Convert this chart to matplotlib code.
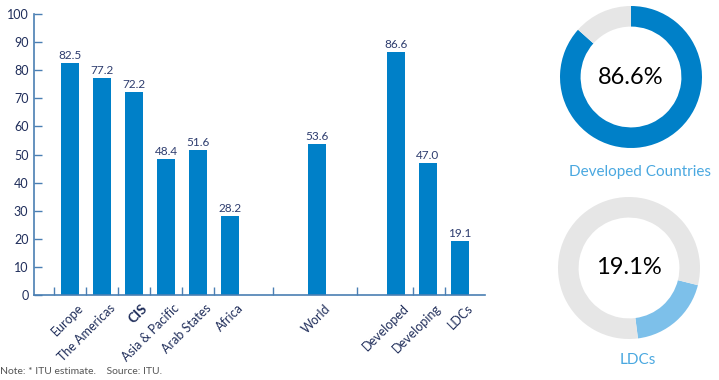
import matplotlib
matplotlib.use("Agg")
import matplotlib.pyplot as plt

plt.rcParams['font.family'] = ['Lato', 'DejaVu Sans']

categories = ["Europe", "The Americas", "CIS", "Asia & Pacific", "Arab States", "Africa",
              "World", "Developed", "Developing", "LDCs"]
values = [82.5, 77.2, 72.2, 48.4, 51.6, 28.2, 53.6, 86.6, 47.0, 19.1]
yticks = [0, 10, 20, 30, 40, 50, 60, 70, 80, 90, 100]

donut_titles = ["Developed Countries", "LDCs"]
donut_values = [86.6, 19.1]

# layout (slot units)
positions = [0, 1, 2, 3, 4, 5, 7.72, 10.19, 11.19, 12.19]
tick_bounds = [-0.5, 0.5, 1.5, 2.5, 3.5, 4.5, 6.34, 8.97, 10.72, 11.72]

BAR = "#0080c8"
AXC = "#4a7fb3"
TXT = "#1f2d5a"

fig = plt.figure(figsize=(7.19, 3.80), dpi=100)
ax = fig.add_axes([34/719, 85/380, 451/719, 281/380])

ax.bar(positions, values, width=0.5625, color=BAR, zorder=2)
for x, v in zip(positions, values):
    ax.annotate(f"{v:.1f}", (x, v), xytext=(0, 1.5), textcoords="offset points",
                ha="center", va="bottom", fontsize=8.5, color="#2d3c6e")

ax.set_xlim(-1.125, 12.97)
ax.set_ylim(0, 100)
ax.set_yticks(yticks)
ax.set_yticklabels([str(t) for t in yticks], fontsize=9, color=TXT)
ax.tick_params(axis="y", direction="in", length=6, color=AXC, width=1, pad=4)

ax.set_xticks(tick_bounds)
ax.set_xticklabels([])
ax.tick_params(axis="x", direction="in", length=6, color=AXC, width=1)

for x, c in zip(positions, categories):
    bold = c == "CIS"
    ax.text(x + 0.22, -2.5, c, rotation=45, ha="right", va="top",
            rotation_mode="anchor", fontsize=10 if bold else 9, color=TXT,
            fontweight="bold" if bold else "normal")

for s in ["top", "right"]:
    ax.spines[s].set_visible(False)
for s in ["left", "bottom"]:
    ax.spines[s].set_color(AXC)
    ax.spines[s].set_linewidth(1.2)

# donuts
centers = [(631, 77), (629, 268)]
radius = 71
starts = [90, -14]
colors = [BAR, "#7dc0ea"]
title_y = [172, 360]
for (cx, cy), val, st, col, title, ty in zip(centers, donut_values, starts, colors, donut_titles, title_y):
    dax = fig.add_axes([(cx - radius)/719, (380 - cy - radius)/380, 2*radius/719, 2*radius/380])
    dax.pie([val, 100 - val], colors=[col, "#e6e6e6"], startangle=st, counterclock=False,
            wedgeprops=dict(width=0.29, edgecolor="none"), radius=1)
    dax.set_xlim(-1, 1); dax.set_ylim(-1, 1)
    dax.set_aspect("equal")
    dax.axis("off")
    dax.text(0, 0, f"{val:.1f}%", ha="center", va="center", fontsize=17, color="black")
    fig.text(cx/719 + 0.012, 1 - ty/380, title, ha="center", va="center",
             fontsize=11, color="#4aa8e0")

fig.text(0, 1 - 372/380, "Note: * ITU estimate.    Source: ITU.", ha="left", va="center",
         fontsize=7.5, color="#555555")

fig.savefig("out.png", dpi=100)
